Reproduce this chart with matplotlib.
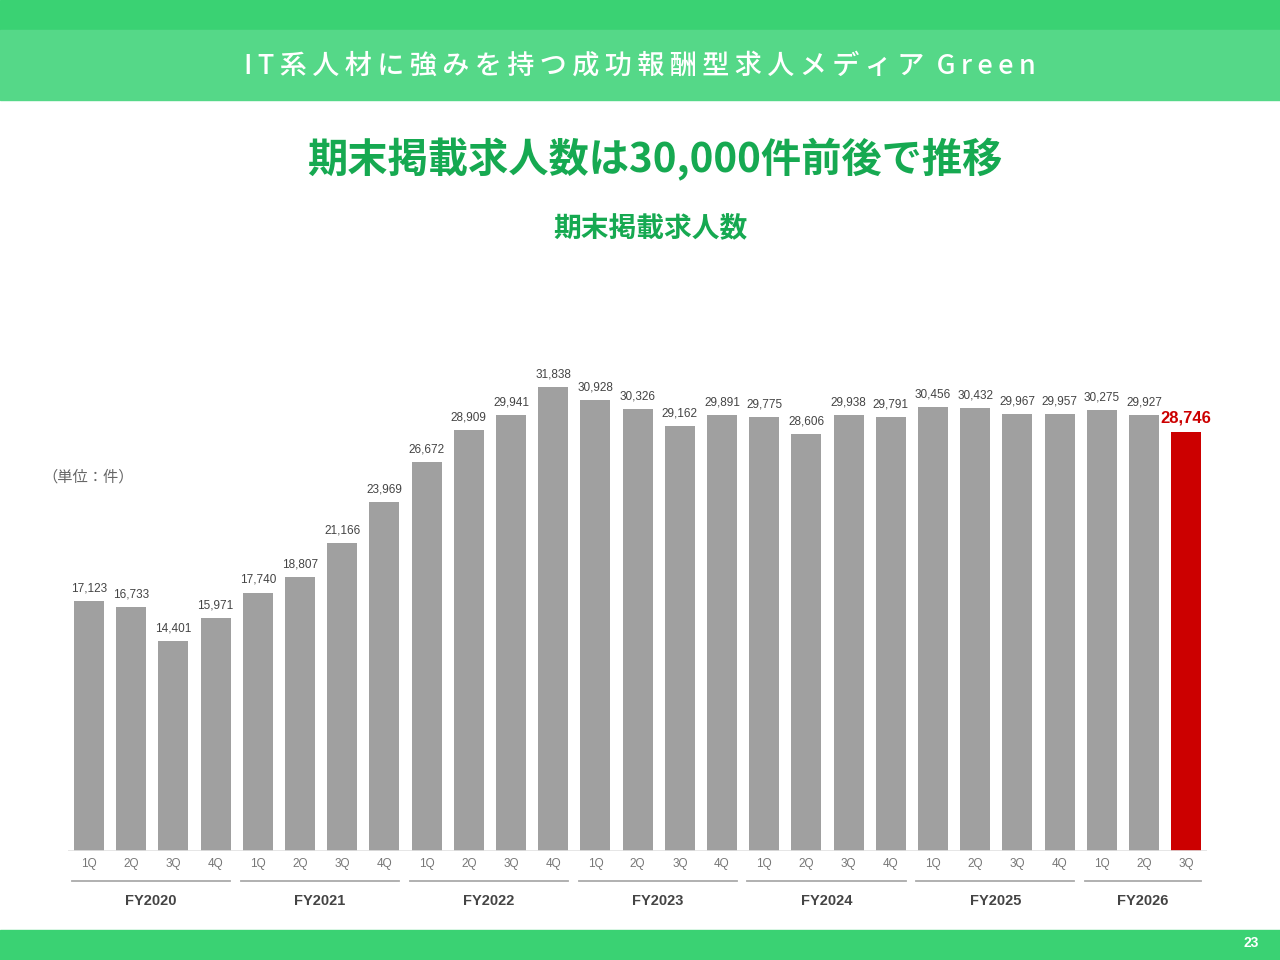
import matplotlib.pyplot as plt
from matplotlib.patches import Rectangle

plt.rcParams['font.family'] = ['Noto Sans CJK JP', 'DejaVu Sans']

# data
quarters = ['1Q', '2Q', '3Q', '4Q'] * 6 + ['1Q', '2Q', '3Q']
values = [17123, 16733, 14401, 15971,
          17740, 18807, 21166, 23969,
          26672, 28909, 29941, 31838,
          30928, 30326, 29162, 29891,
          29775, 28606, 29938, 29791,
          30456, 30432, 29967, 29957,
          30275, 29927, 28746]
years = ['FY2020', 'FY2021', 'FY2022', 'FY2023', 'FY2024', 'FY2025', 'FY2026']
year_sizes = [4, 4, 4, 4, 4, 4, 3]

GREEN_TOP = '#3ad273'
GREEN_BAND = '#55d888'
GREEN_TEXT = '#16a951'
GRAY_BAR = '#a0a0a0'
RED = '#cc0000'

fig = plt.figure(figsize=(12.8, 9.6), dpi=100)

# header / footer bands
fig.patches.append(Rectangle((0, 1 - 30/960), 1, 30/960, transform=fig.transFigure,
                             color=GREEN_TOP, zorder=0))
fig.patches.append(Rectangle((0, 1 - 100/960), 1, 70/960, transform=fig.transFigure,
                             color=GREEN_BAND, zorder=0))
fig.patches.append(Rectangle((0, 0), 1, 30/960, transform=fig.transFigure,
                             color=GREEN_TOP, zorder=0))

header = 'IT系人材に強みを持つ成功報酬型求人メディア Green'
fig.text(0.5, 1 - 66/960, '\u2009'.join(header).replace('\u2009 \u2009', '  '),
         ha='center', va='center', color='white', fontsize=19.5, fontweight='medium',
         family=['Noto Sans CJK JP', 'DejaVu Sans'])
fig.text(655/1280, 1 - 160/960, '期末掲載求人数は30,000件前後で推移', ha='center', va='center',
         color=GREEN_TEXT, fontsize=29, fontweight='bold')
fig.text(650/1280, 1 - 228/960, '期末掲載求人数', ha='center', va='center',
         color=GREEN_TEXT, fontsize=20, fontweight='bold')
fig.text(42/1280, 1 - 477/960, '（単位：件）', ha='left', va='center',
         color='#666666', fontsize=11)
fig.text(1251/1280, 1 - 943/960, '23', ha='center', va='center', color='white',
         fontsize=10, fontweight='bold', family='Liberation Sans')

# chart
ax = fig.add_axes([67.9/1280, 109/960, 1139.4/1280, 510/960])
x = list(range(len(values)))
colors = [GRAY_BAR] * (len(values) - 1) + [RED]
ax.bar(x, values, width=0.71, color=colors, zorder=2)
ax.set_xlim(-0.5, len(values) - 0.5)
ax.set_ylim(0, 35000)
for s in ax.spines.values():
    s.set_visible(False)
ax.set_yticks([])
ax.set_xticks([])
ax.axhline(0, color='#e2e2e2', lw=1.2, zorder=3)

for i, v in enumerate(values):
    if i == len(values) - 1:
        ax.text(i, v + 450, f'{v:,}', ha='center', va='bottom', color=RED,
                fontsize=12, fontweight='bold', family='Liberation Sans')
    else:
        ax.text(i, v + 450, f'{v:,}', ha='center', va='bottom', color='#444444',
                fontsize=8.5, family='Liberation Sans')

for i, q in enumerate(quarters):
    ax.text(i, -880, q, ha='center', va='center', color='#777777', fontsize=8.5,
            family='Liberation Sans')

start = 0
for name, n in zip(years, year_sizes):
    x0 = start - 0.4
    x1 = start + n - 1 + 0.35
    ax.plot([x0, x1], [-2080, -2080], color='#aaaaaa', lw=1.3, clip_on=False)
    ax.text((x0 + x1) / 2, -3400, name, ha='center', va='center', color='#444444',
            fontsize=10.5, fontweight='bold', family='Liberation Sans')
    start += n

fig.savefig('out.png', dpi=100)
